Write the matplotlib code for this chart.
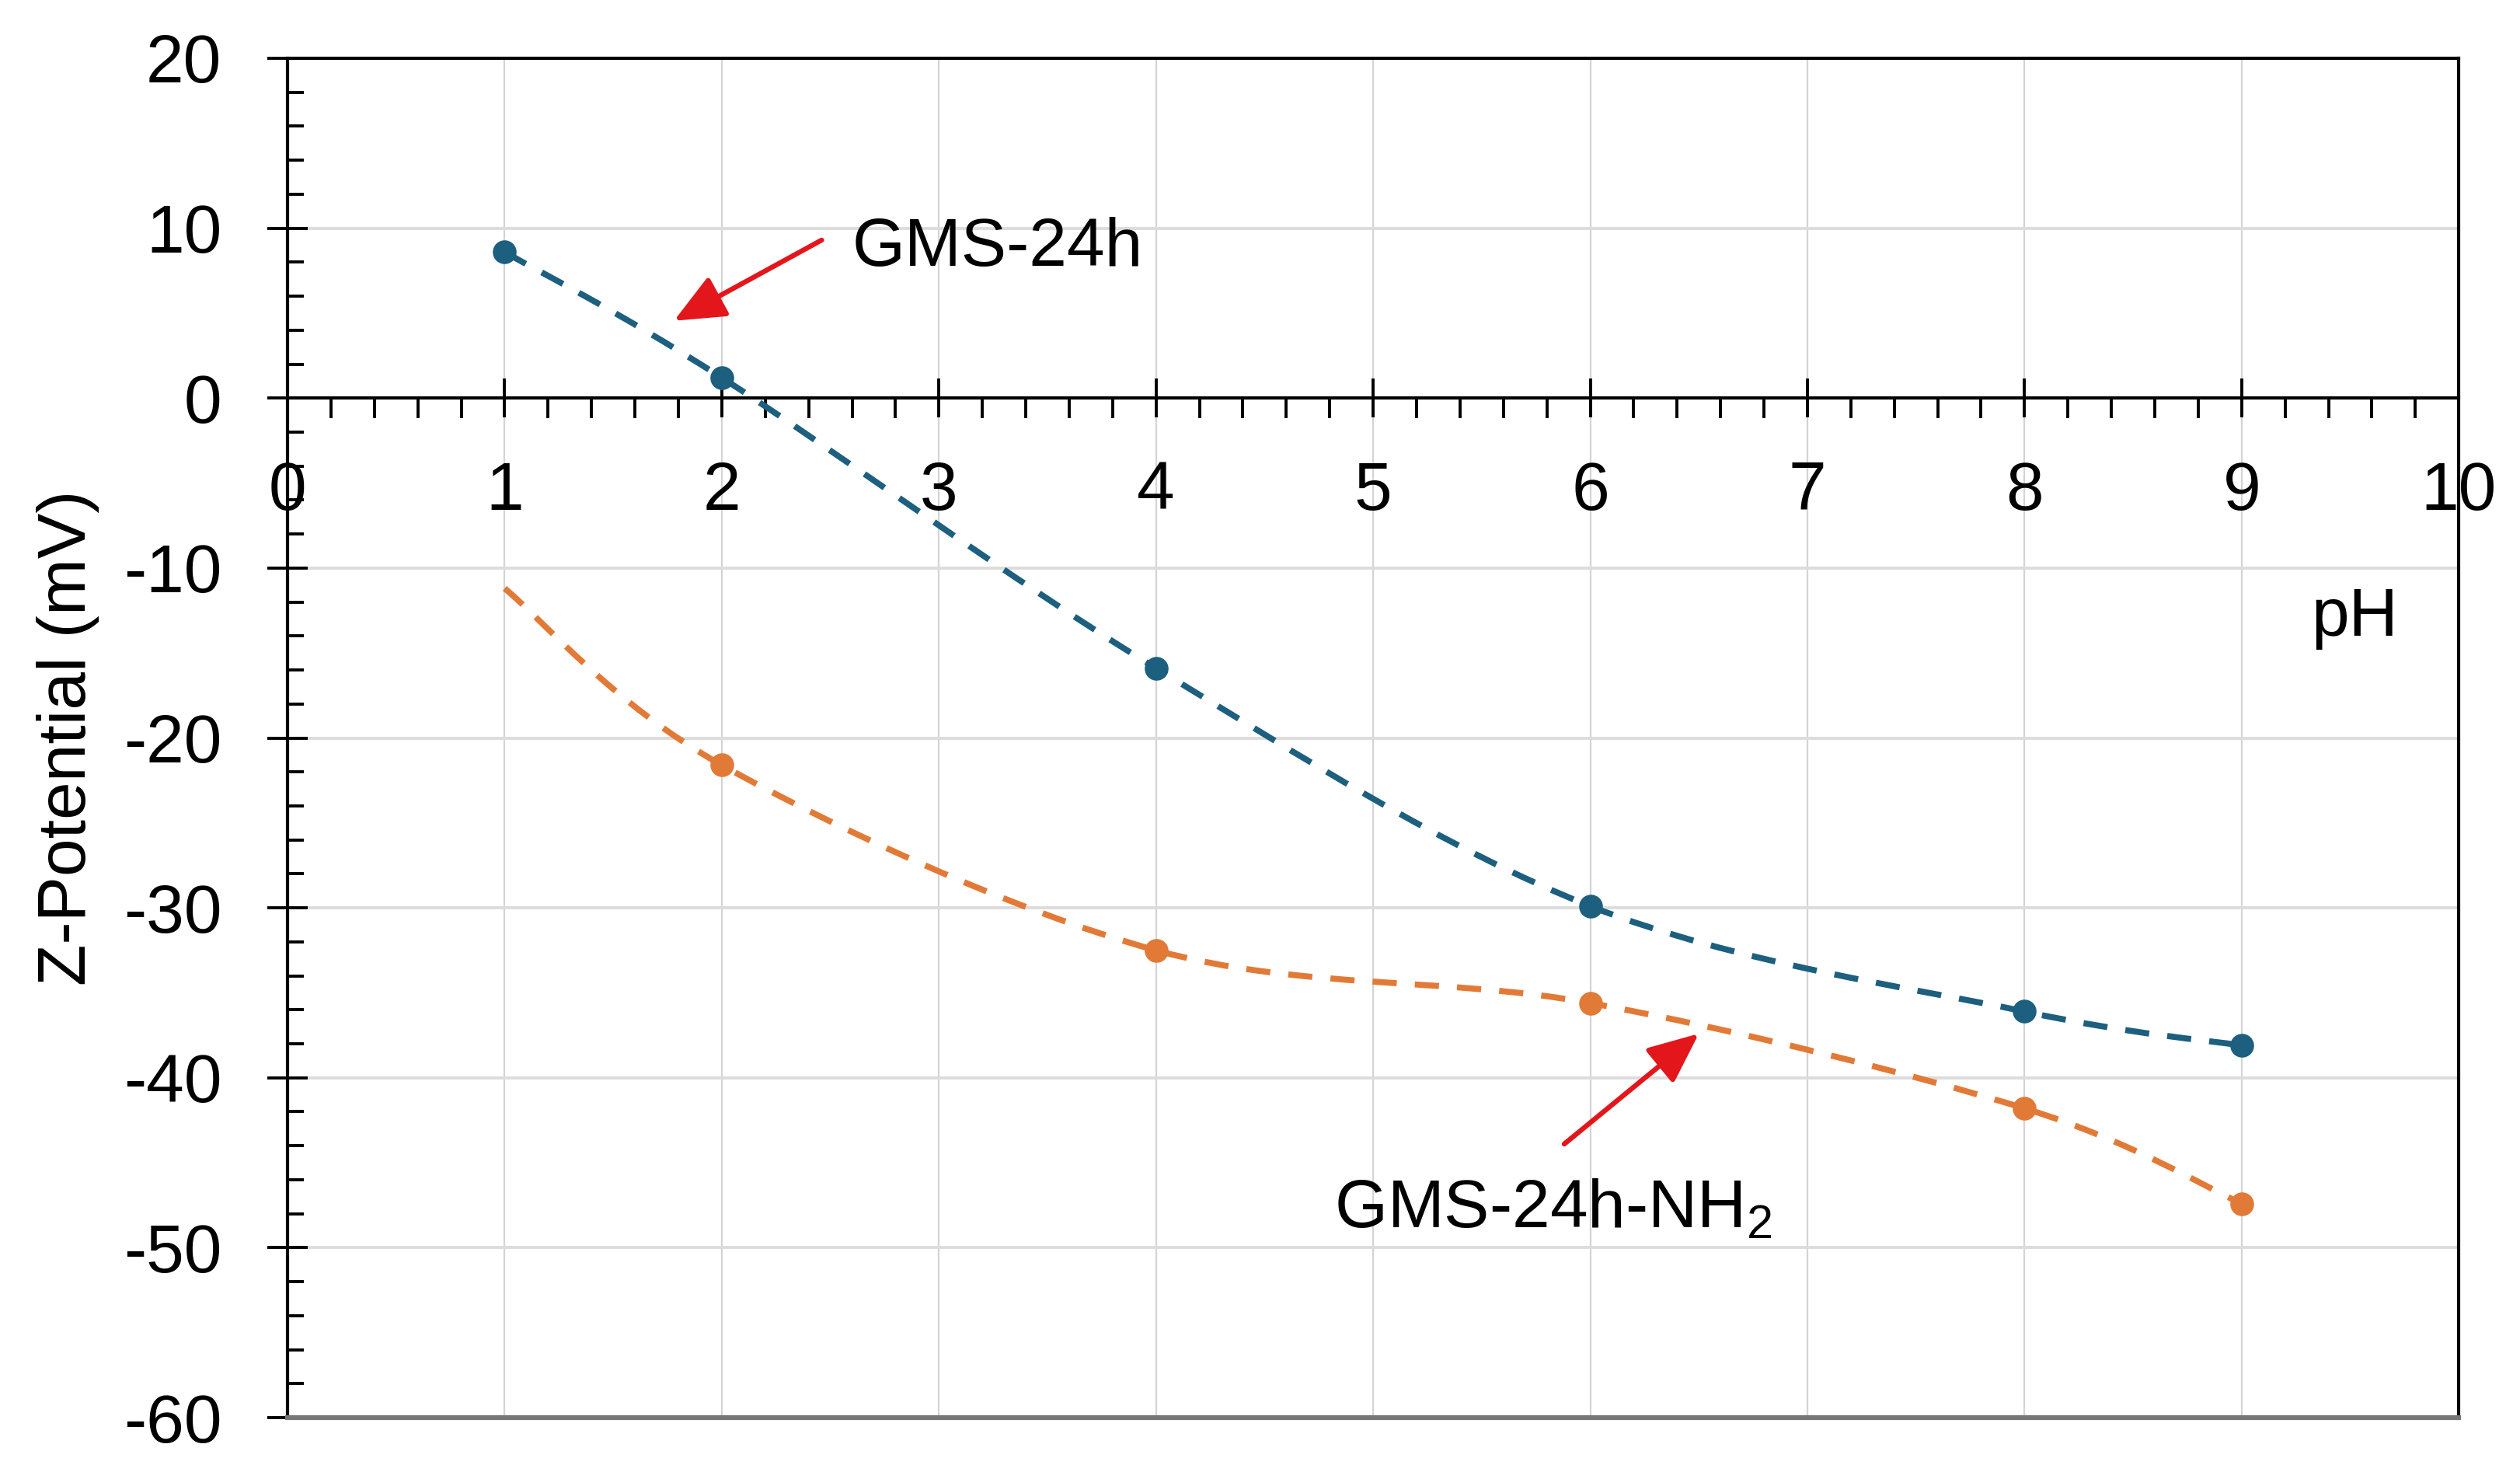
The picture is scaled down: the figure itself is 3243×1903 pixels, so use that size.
import numpy as np
import matplotlib
matplotlib.use("Agg")
import matplotlib.pyplot as plt
from matplotlib.path import Path
from matplotlib.patches import PathPatch
from matplotlib.ticker import MultipleLocator

plt.rcParams["font.family"] = ["Liberation Sans", "DejaVu Sans"]
plt.rcParams["mathtext.fontset"] = "custom"
plt.rcParams["mathtext.rm"] = "Liberation Sans"
plt.rcParams["axes.unicode_minus"] = False

# ---- data --------------------------------------------------------------------
ph = [1, 2, 4, 6, 8, 9]
gms = [8.6, 1.2, -15.9, -29.9, -36.1, -38.1]
gms_nh2 = [-11.2, -21.6, -32.5, -35.6, -41.8, -47.4]

BLUE = "#1d5f7e"
ORANGE = "#e27a37"
RED = "#e3161c"


def smooth_path(x, y, t=1/6):
    """Excel-style smoothed line: cubic Bezier through every point."""
    p = np.column_stack([x, y]).astype(float)
    n = len(p)
    verts = [p[0]]
    codes = [Path.MOVETO]
    for i in range(n - 1):
        p0 = p[max(i - 1, 0)]
        p3 = p[min(i + 2, n - 1)]
        c1 = p[i] + (p[i + 1] - p0) * t
        c2 = p[i + 1] - (p3 - p[i]) * t
        verts += [c1, c2, p[i + 1]]
        codes += [Path.CURVE4] * 3
    return Path(verts, codes)


fig = plt.figure(figsize=(32.43, 19.03), dpi=100)
ax = fig.add_axes([0.1141, 0.0415, 0.8616, 0.9191])
ax.set_xlim(0, 10)
ax.set_ylim(-60, 20)

# grid
ax.set_axisbelow(True)
for v in range(1, 10):
    ax.axvline(v, color="#d4d4d4", lw=1.6, zorder=0)
for h in range(-50, 20, 10):
    ax.axhline(h, color="#dcdcdc", lw=2.8, zorder=0)

# spines
ax.spines["bottom"].set_position(("data", 0))
for s in ["left", "top", "right", "bottom"]:
    ax.spines[s].set_color("black")
    ax.spines[s].set_linewidth(3)
ax.axhline(-60, color="#767676", lw=4.5, clip_on=False, zorder=3)

# ticks
ax.xaxis.set_major_locator(MultipleLocator(1))
ax.xaxis.set_minor_locator(MultipleLocator(0.2))
ax.yaxis.set_major_locator(MultipleLocator(10))
ax.yaxis.set_minor_locator(MultipleLocator(2))
ax.tick_params(axis="x", which="major", direction="inout", length=36, width=2.8,
               labelsize=63, pad=40)
ax.tick_params(axis="x", which="minor", direction="out", length=19, width=2.8)
ax.tick_params(axis="y", which="major", direction="inout", length=38, width=2.8,
               labelsize=63, pad=42)
ax.tick_params(axis="y", which="minor", direction="in", length=15, width=2.8)

# series
for y, col in [(gms, BLUE), (gms_nh2, ORANGE)]:
    ax.add_patch(PathPatch(smooth_path(ph, y), fill=False, edgecolor=col,
                           lw=5.6, linestyle=(0, (4, 3)), zorder=4))
ax.plot(ph, gms, "o", color=BLUE, ms=21, zorder=5)
ax.plot(ph[1:], gms_nh2[1:], "o", color=ORANGE, ms=21, zorder=5)

# labels
ax.set_ylabel("Z-Potential (mV)", fontsize=63)
ax.yaxis.set_label_coords(-0.0866, 0.5)
ax.text(9.32, -14.0, "pH", fontsize=63, ha="left", va="baseline")

arrow = dict(arrowstyle="-|>,head_length=0.5,head_width=0.22", color=RED,
             lw=4.6, mutation_scale=80, shrinkA=0, shrinkB=0)
ax.annotate("", xy=(1.78, 4.55), xytext=(2.46, 9.3), arrowprops=arrow, zorder=6)
ax.text(2.60, 7.8, "GMS-24h", fontsize=63, ha="left", va="baseline")
ax.annotate("", xy=(6.50, -37.4), xytext=(5.88, -43.9), arrowprops=arrow, zorder=6)
ax.text(4.82, -48.8, r"GMS-24h-NH$_2$", fontsize=63, ha="left", va="baseline")

fig.savefig("out.png", dpi=100)
